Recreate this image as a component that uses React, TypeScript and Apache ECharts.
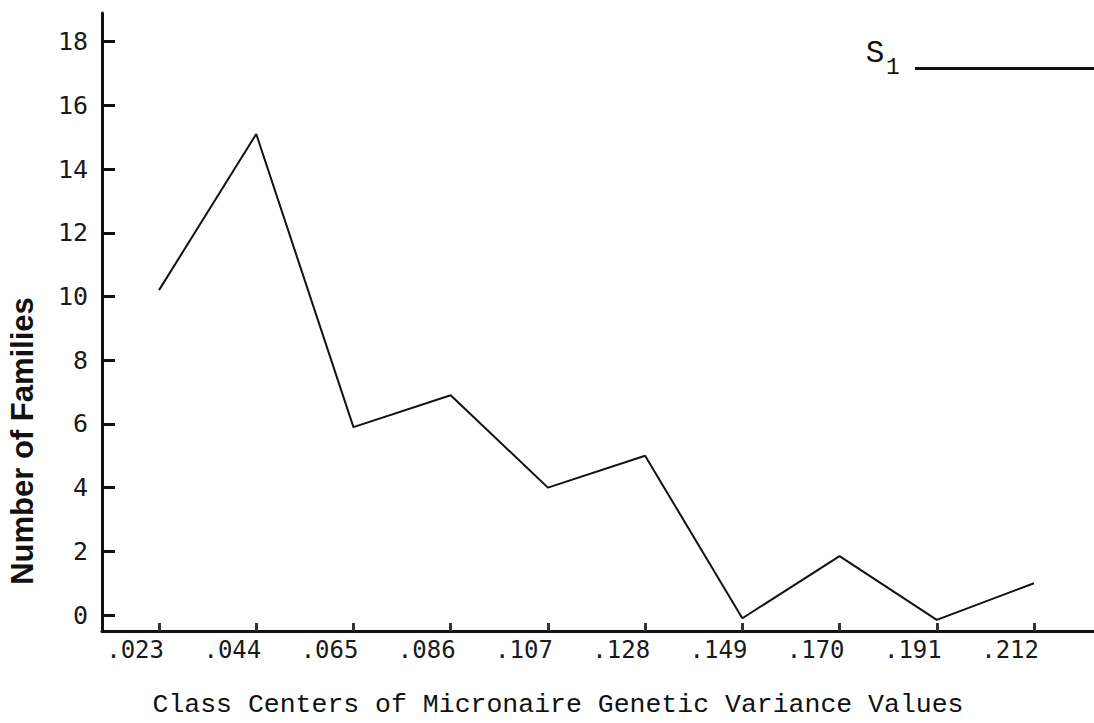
import React, { useEffect, useRef } from "react";
import * as echarts from "echarts";

const categories = [".023", ".044", ".065", ".086", ".107", ".128", ".149", ".170", ".191", ".212"];
const families = [10.2, 15.1, 5.9, 6.9, 4.0, 5.0, -0.1, 1.85, -0.15, 1.0];
const yTicks = [0, 2, 4, 6, 8, 10, 12, 14, 16, 18];
const seriesName = "S1";
const legendMain = "S";
const legendSub = "1";
const xTitle = "Class Centers of Micronaire Genetic Variance Values";
const yTitle = "Number of Families";

export default function App() {
  const ref = useRef<HTMLDivElement>(null);
  useEffect(() => {
    if (!ref.current) return;
    const chart = echarts.init(ref.current, null, { renderer: "svg" });
    const idx = categories.map((_, i) => i);
    chart.setOption({
      animation: false,
      backgroundColor: "#ffffff",
      grid: { left: 102, right: 0, top: 13, bottom: 92, containLabel: false },
      legend: {
        right: 0,
        top: 67,
        padding: 0,
        align: "right",
        icon: "rect",
        itemWidth: 179,
        itemHeight: 3,
        data: [{ name: seriesName }],
        formatter: () => "",
        textStyle: { fontSize: 1 },
      },
      xAxis: {
        type: "value",
        min: -(159 - 102) / 97.2,
        max: 9 + (1094 - 1034) / 97.2,
        splitLine: { show: false },
        axisLine: { show: true, onZero: false, lineStyle: { color: "#111", width: 3 } },
        axisTick: { show: true, inside: true, length: 8, customValues: idx, lineStyle: { color: "#333", width: 3 } },
        axisLabel: {
          customValues: idx,
          formatter: (v: number) => categories[Math.round(v)] ?? "",
          align: "right",
          margin: 7,
          fontFamily: "DejaVu Sans Mono",
          fontSize: 24,
          color: "#1a1a1a",
          padding: [0, -5, 0, 0],
        },
      },
      yAxis: {
        type: "value",
        min: -0.5,
        max: 18.9,
        splitLine: { show: false },
        axisLine: { show: true, onZero: false, lineStyle: { color: "#111", width: 3 } },
        axisTick: { show: true, inside: true, length: 13, customValues: yTicks, lineStyle: { color: "#111", width: 3 } },
        axisLabel: {
          customValues: yTicks,
          margin: 14,
          fontFamily: "DejaVu Sans Mono",
          fontSize: 25,
          color: "#1a1a1a",
        },
      },
      graphic: [
        {
          type: "text",
          x: 22,
          y: 441,
          rotation: Math.PI / 2,
          style: {
            text: yTitle,
            fontFamily: "Liberation Sans",
            fontWeight: "bold",
            fontSize: 31,
            fill: "#111",
            align: "center",
            verticalAlign: "middle",
          },
        },
        {
          type: "text",
          x: 558,
          y: 705,
          style: {
            text: xTitle,
            fontFamily: "Liberation Mono",
            fontSize: 26.5,
            fill: "#111",
            align: "center",
            verticalAlign: "middle",
          },
        },
        {
          type: "text",
          x: 875,
          y: 53,
          style: {
            text: legendMain,
            fontFamily: "Liberation Mono",
            fontSize: 31,
            fill: "#111",
            align: "center",
            verticalAlign: "middle",
          },
        },
        {
          type: "text",
          x: 893,
          y: 68,
          style: {
            text: legendSub,
            fontFamily: "Liberation Mono",
            fontSize: 23,
            fill: "#111",
            align: "center",
            verticalAlign: "middle",
          },
        },
      ],
      series: [
        {
          name: seriesName,
          type: "line",
          data: families.map((v, i) => [i, v]),
          symbol: "none",
          lineStyle: { color: "#111", width: 2 },
          itemStyle: { color: "#111" },
        },
      ],
    });
    return () => chart.dispose();
  }, []);
  return <div ref={ref} style={{ position: "fixed", left: 0, top: 0, width: 1094, height: 723, background: "#fff" }} />;
}
